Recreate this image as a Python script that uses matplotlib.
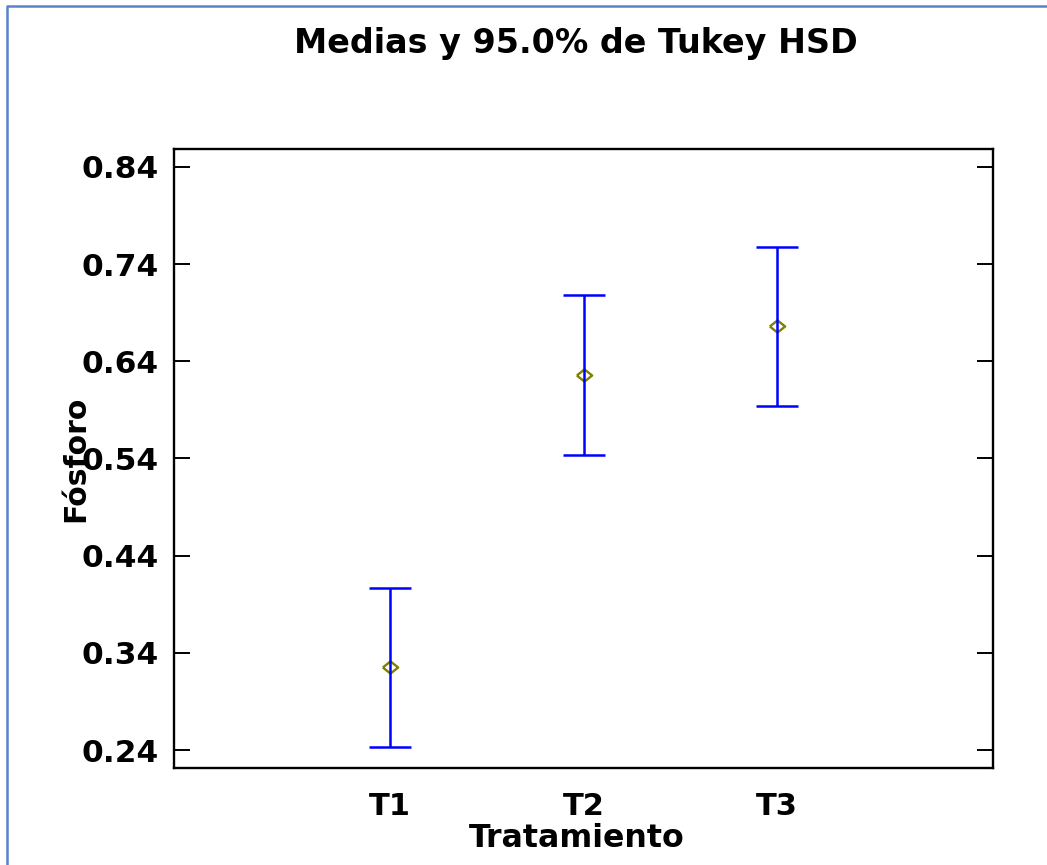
import matplotlib
matplotlib.use("Agg")
import matplotlib.pyplot as plt
from matplotlib.lines import Line2D
import numpy as np

# Treatment means with Tukey HSD 95% intervals
tratamientos = ["T1", "T2", "T3"]
medias = [0.325, 0.626, 0.676]
semi_intervalo = [0.082, 0.082, 0.082]
yticks = [0.24, 0.34, 0.44, 0.54, 0.64, 0.74, 0.84]

plt.rcParams["font.family"] = ["DejaVu Sans"]
plt.rcParams["font.weight"] = "bold"

fig = plt.figure(figsize=(10.47, 8.65), dpi=100)
ax = fig.add_axes([174 / 1047, 1 - 768 / 865, 819 / 1047, 619 / 865])

x = np.arange(1, len(tratamientos) + 1)

# open diamond marker, slightly wider than tall
diamond = [(-1, 0), (0, 0.8), (1, 0), (0, -0.8), (-1, 0)]
ax.plot(x, medias, linestyle="none", marker=diamond, markersize=11,
        markerfacecolor="none", markeredgecolor="#808000",
        markeredgewidth=1.7, zorder=2)
ax.errorbar(x, medias, yerr=semi_intervalo, fmt="none", ecolor="#0000FF",
            elinewidth=1.8, capsize=14.8, capthick=1.8, zorder=3)

ax.set_xlim(-0.116, 4.116)
ax.set_ylim(0.2215, 0.8585)
ax.set_xticks(x)
ax.set_xticklabels(tratamientos)
ax.set_yticks(yticks)
ax.set_yticklabels([f"{v:.2f}" for v in yticks])

for s in ax.spines.values():
    s.set_linewidth(1.7)
    s.set_color("black")

ax.tick_params(axis="y", direction="in", length=11.5, width=1.4,
               left=True, right=True, labelsize=22.5, pad=11)
ax.tick_params(axis="x", bottom=False, top=False, labelsize=22, pad=14)
for lbl in ax.get_xticklabels() + ax.get_yticklabels():
    lbl.set_fontweight("bold")

ax.set_xlabel("Tratamiento", fontsize=22.8, fontweight="bold")
ax.xaxis.set_label_coords(0.492, -0.127)
ax.xaxis.label.set_va("baseline")

ax.set_ylabel("Fósforo", fontsize=21.5, fontweight="bold")
ax.yaxis.set_label_coords(-0.12, 0.5)
ax.yaxis.label.set_va("center")

fig.text(576 / 1047, 1 - 53 / 865, "Medias y 95.0% de Tukey HSD",
         ha="center", va="baseline", fontsize=24, fontweight="bold")

# thin blue frame along the left and top edges
fig.add_artist(Line2D([7 / 1047, 7 / 1047, 1.0], [0.0, 1 - 5.5 / 865, 1 - 5.5 / 865],
                      transform=fig.transFigure, color="#5A82CC", linewidth=1.8))

fig.savefig("out.png", dpi=100)
